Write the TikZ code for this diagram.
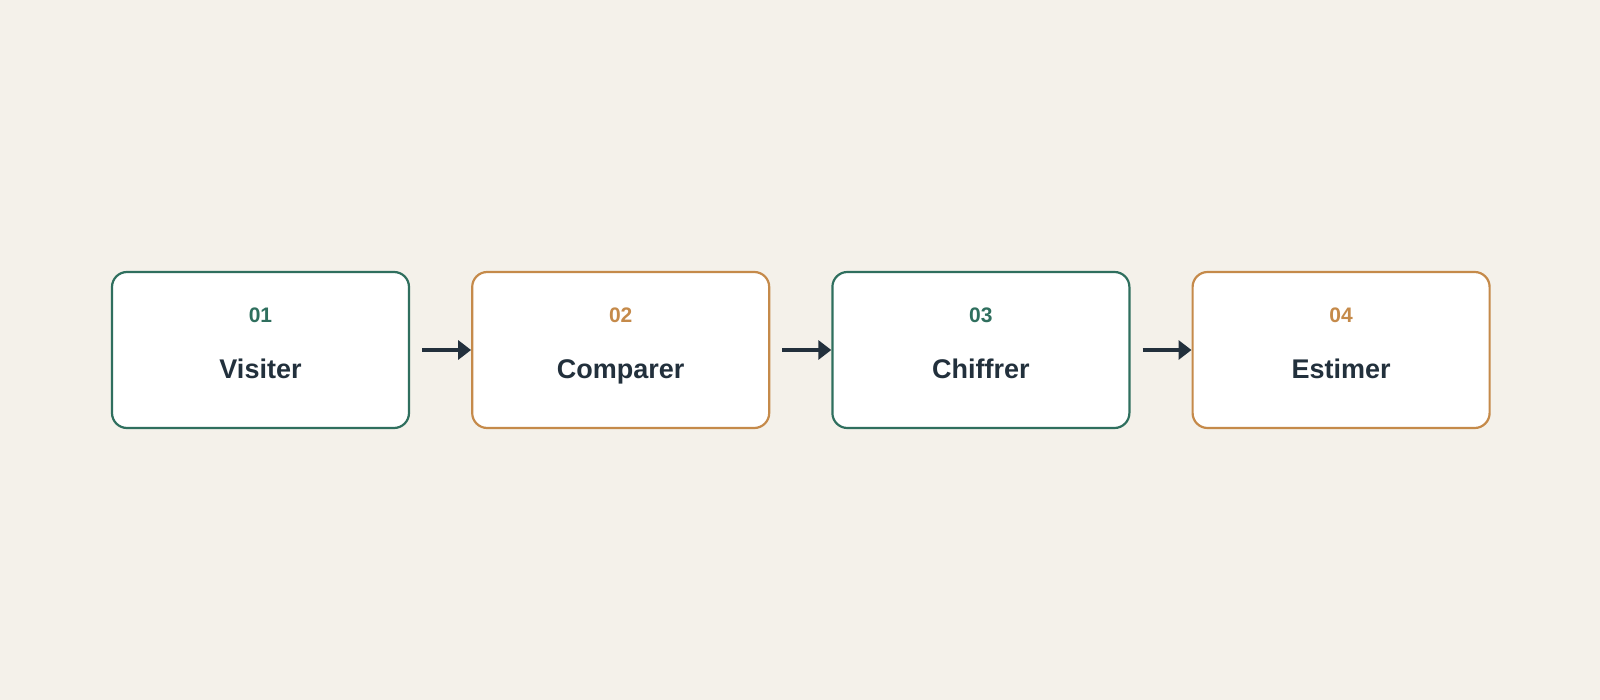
\documentclass[tikz,border=0pt]{standalone}
\usepackage{fontspec}
\setmainfont{Liberation Sans}
\usetikzlibrary{positioning,arrows.meta}

\definecolor{paper}{HTML}{F4F1EA}
\definecolor{stepgreen}{HTML}{2F6F5E}
\definecolor{steporange}{HTML}{C58A4A}
\definecolor{ink}{HTML}{22303C}

\begin{document}
\begin{tikzpicture}[x=1pt,y=1pt]
\tikzstyle{every node}=[font=\bfseries]
\tikzstyle{stepbox}=[draw, fill=white, rounded corners=15pt, line width=2.2pt,
  minimum width=297pt, minimum height=156pt]
\tikzstyle{num}=[font=\fontsize{21}{25}\selectfont\bfseries, anchor=base]
\tikzstyle{title}=[font=\fontsize{27}{31}\selectfont\bfseries, text=ink, anchor=base]
\tikzstyle{flow}=[draw=ink, line width=3.5pt, -{Triangle[length=13pt,width=19pt]}]

\fill[paper] (0,0) rectangle (1600,-700);
\useasboundingbox (0,0) rectangle (1600,-700);

\node[stepbox, draw=stepgreen] (visiter) at (260.5,-350) {};
\node[stepbox, draw=steporange, right=61pt of visiter] (comparer) {};
\node[stepbox, draw=stepgreen, right=61pt of comparer] (chiffrer) {};
\node[stepbox, draw=steporange, right=61pt of chiffrer] (estimer) {};

\node[num, text=stepgreen] (n1) at ([yshift=27pt]visiter.center) {01};
\node[title] (t1) at ([yshift=-28pt]visiter.center) {Visiter};
\node[num, text=steporange] (n2) at ([yshift=27pt]comparer.center) {02};
\node[title] (t2) at ([yshift=-28pt]comparer.center) {Comparer};
\node[num, text=stepgreen] (n3) at ([yshift=27pt]chiffrer.center) {03};
\node[title] (t3) at ([yshift=-28pt]chiffrer.center) {Chiffrer};
\node[num, text=steporange] (n4) at ([yshift=27pt]estimer.center) {04};
\node[title] (t4) at ([yshift=-28pt]estimer.center) {Estimer};

\draw[flow] ([xshift=12pt]visiter.east) -- (comparer.west);
\draw[flow] ([xshift=12pt]comparer.east) -- (chiffrer.west);
\draw[flow] ([xshift=12pt]chiffrer.east) -- (estimer.west);

\end{tikzpicture}
\end{document}
